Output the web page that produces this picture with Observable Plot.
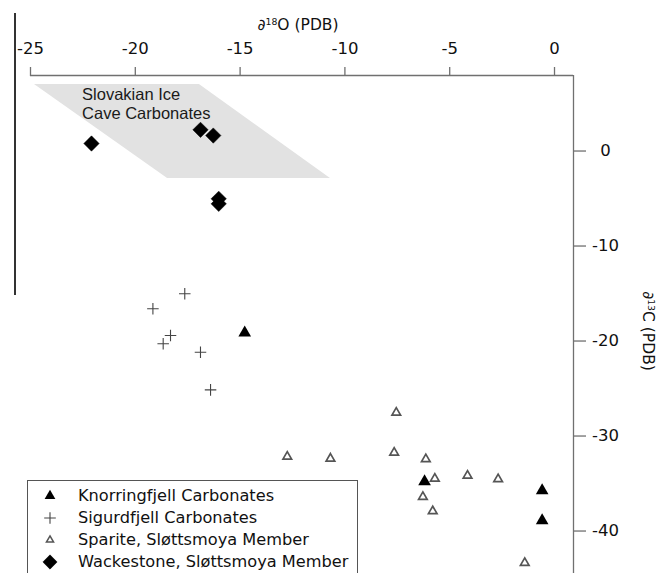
<!DOCTYPE html>
<html><head><meta charset="utf-8">
<script src="https://cdn.jsdelivr.net/npm/d3@7"></script>
<script src="https://cdn.jsdelivr.net/npm/@observablehq/plot@0.6"></script>
<style>
body{margin:0;background:#fff;}
#wrap{position:relative;width:659px;height:573px;overflow:hidden;font-family:"DejaVu Sans",sans-serif;color:#111;}
#wrap svg.plot{position:absolute;left:0;top:0;}
.title{position:absolute;font-size:15.5px;line-height:18px;white-space:nowrap;}
.title .sup{font-size:0.6em;position:relative;top:-0.55em;}
#legend{position:absolute;left:27px;top:480px;width:329px;height:130px;border:1px solid #555;background:#fff;}
.lrow{position:absolute;left:0;height:22px;white-space:nowrap;font-size:16.2px;line-height:22px;}
.lrow svg{position:absolute;left:10px;top:0;}
.lrow span{position:absolute;left:50px;top:0;}
#artifact{position:absolute;left:14px;top:13px;width:1.5px;height:282px;background:#333;}
</style></head><body><div id="wrap"></div>
<script>
// ---- data ----
const xTicks = [-25, -20, -15, -10, -5, 0];
const yTicks = [-40, -30, -20, -10, 0];
const xDomain = [-25, 0.906];
const yDomain = [-44.47, 7.95];

const knorrO = [-14.78, -6.20, -0.59, -0.59];
const knorrC = [-19.14, -34.79, -35.75, -38.89];

const sigurO = [-17.64, -19.16, -18.32, -18.67, -16.89, -16.41];
const sigurC = [-15.03, -16.61, -19.42, -20.29, -21.18, -25.14];

const spariteO = [-7.55, -12.75, -10.69, -7.65, -6.14, -5.71, -4.15, -2.69, -6.28, -5.81, -1.42];
const spariteC = [-27.53, -32.16, -32.37, -31.74, -32.43, -34.48, -34.16, -34.54, -36.40, -37.91, -43.35];

const wackeO = [-22.09, -16.89, -16.28, -16.02, -16.02];
const wackeC = [0.79, 2.23, 1.63, -5.03, -5.56];

// Slovakian ice cave field (parallelogram: top and bottom edges)
const caveC = [7.0, -2.89];
const caveO1 = [-24.81, -18.46];
const caveO2 = [-16.94, -10.69];
const caveLabel = ["Slovakian Ice\nCave Carbonates"];
const caveLabelO = [-22.54];
const caveLabelC = [6.85];

const seriesNames = ["Knorringfjell Carbonates", "Sigurdfjell Carbonates", "Sparite, Sløttsmoya Member", "Wackestone, Sløttsmoya Member"];
const xTitle = ["∂", "18", "O (PDB)"];
const yTitle = ["∂", "13", "C (PDB)"];

// ---- tables ----
const zip = (xs, ys) => xs.map((x, i) => ({o: x, c: ys[i]}));
const knorr = zip(knorrO, knorrC);
const sigur = zip(sigurO, sigurC);
const sparite = zip(spariteO, spariteC);
const wacke = zip(wackeO, wackeC);
const cave = caveC.map((c, i) => ({c, o1: caveO1[i], o2: caveO2[i]}));
const caveText = caveLabel.map((t, i) => ({t, o: caveLabelO[i], c: caveLabelC[i]}));

const axisGray = "#707070";

const chart = Plot.plot({
  width: 659, height: 573,
  marginLeft: 30, marginRight: 86, marginTop: 75, marginBottom: 0,
  style: {fontFamily: "DejaVu Sans, sans-serif", fontSize: "16px", background: "transparent", color: "#111"},
  x: {domain: xDomain, axis: null},
  y: {domain: yDomain, axis: null},
  marks: [
    Plot.areaX(cave, {y: "c", x1: "o1", x2: "o2", fill: "#e2e2e2", curve: "linear"}),
    Plot.text(caveText, {x: "o", y: "c", text: "t", textAnchor: "start", lineAnchor: "top",
      fontFamily: "Liberation Sans, Arial, sans-serif", fontSize: 16.5, lineHeight: 1.17, fill: "#1a1a1a"}),
    Plot.ruleY([yDomain[1]], {stroke: axisGray, strokeWidth: 1.3}),
    Plot.ruleX([xDomain[1]], {stroke: axisGray, strokeWidth: 1.3}),
    Plot.axisX({anchor: "top", ticks: xTicks, tickFormat: d => String(d), tickSize: 9, tickPadding: 13,
      stroke: axisGray, strokeWidth: 1.3, fill: "#111", fontSize: 16.5, label: null}),
    Plot.axisY({anchor: "right", ticks: yTicks, tickFormat: d => String(d), tickSize: 12, tickPadding: 20,
      textAnchor: "middle", stroke: axisGray, strokeWidth: 1.3, fill: "#111", fontSize: 16.5, label: null}),
    Plot.dot(sparite, {x: "o", y: "c", symbol: "triangle", r: 3.2, fill: "#fff", stroke: "#555", strokeWidth: 1.7}),
    Plot.dot(sigur, {x: "o", y: "c", symbol: "plus", r: 3.8, stroke: "#444", strokeWidth: 1.1}),
    Plot.dot(knorr, {x: "o", y: "c", symbol: "triangle", r: 4.7, fill: "#000", stroke: "none"}),
    Plot.dot(wacke, {x: "o", y: "c", symbol: "diamond2", r: 6.9, fill: "#000", stroke: "#000", strokeWidth: 0.5})
  ]
});
chart.classList.add("plot");

const wrap = document.getElementById("wrap");
wrap.appendChild(chart);

// axis titles
function title(parts) {
  const d = document.createElement("div");
  d.className = "title";
  d.innerHTML = `${parts[0]}<span class="sup">${parts[1]}</span>${parts[2]}`;
  return d;
}
const xt = title(xTitle);
xt.style.left = "298px"; xt.style.top = "16px"; xt.style.transform = "translateX(-50%)";
wrap.appendChild(xt);
const yt = title(yTitle);
yt.style.left = "647px"; yt.style.top = "331px";
yt.style.transform = "translate(-50%,-50%) rotate(90deg)";
wrap.appendChild(yt);

// stray frame line at the left edge of the original figure
const art = document.createElement("div");
art.id = "artifact";
wrap.appendChild(art);

// legend
const legend = document.createElement("div");
legend.id = "legend";
wrap.appendChild(legend);
const legendSymbols = [
  {type: d3.symbolTriangle, size: 50, fill: "#000", stroke: "none", sw: 0},
  {type: d3.symbolPlus, size: 46, fill: "none", stroke: "#444", sw: 1.1},
  {type: d3.symbolTriangle, size: 22, fill: "#fff", stroke: "#555", sw: 1.5},
  {type: d3.symbolDiamond2, size: 130, fill: "#000", stroke: "#000", sw: 0.5}
];
seriesNames.forEach((name, i) => {
  const row = document.createElement("div");
  row.className = "lrow";
  row.style.top = (3.5 + 22 * i) + "px";
  const s = legendSymbols[i];
  const path = d3.symbol(s.type, s.size)();
  row.innerHTML = `<svg width="24" height="22"><path transform="translate(12,11)" d="${path}" fill="${s.fill}" stroke="${s.stroke}" stroke-width="${s.sw}"/></svg><span>${name}</span>`;
  legend.appendChild(row);
});
</script>
</body></html>
